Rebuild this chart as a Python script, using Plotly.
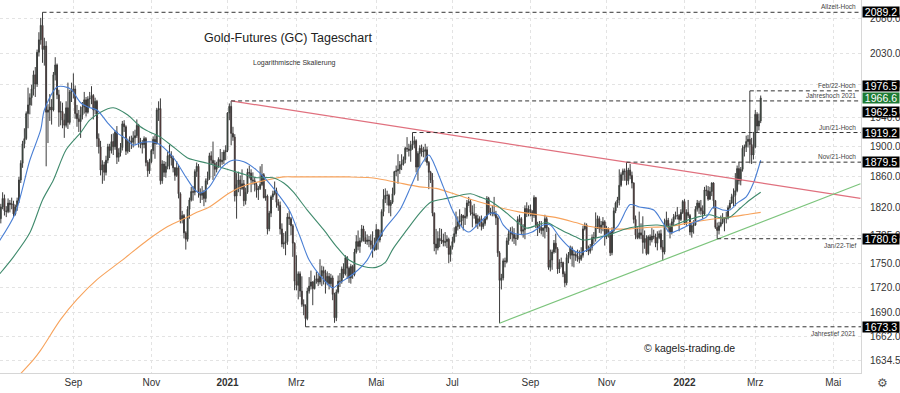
import math
import pandas as pd
import plotly.graph_objects as go

# ---------------- data ----------------
start_date = "2020-07-06"
end_date = "2022-05-31"
holidays = ["2020-09-07", "2020-11-26", "2020-12-25", "2021-01-01", "2021-01-18",
            "2021-02-15", "2021-04-02", "2021-05-31", "2021-07-05", "2021-09-06",
            "2021-11-25", "2021-12-24", "2022-01-17", "2022-02-21", "2022-04-15",
            "2022-05-30"]

open_ = [
    1800,1806,1821,1832,1816,1815,1826,1824,1825,1812,1821,1829,1856,1878,1904,1911,1945,1957,1967,1979,
    1999,1986,2031,2049,2070,2035,2040,1947,1950,1954,1950,1999,2013,1971,1947,1948,1936,1929,1953,1933,1975,
    1978,1979,1945,1938,1934,1943,1954,1964,1947,1965,1966,1970,1950,1962,1911,1900,1869,1876,1866,1882,1900,
    1895,1907,1900,1920,1886,1892,1899,1931,1927,1894,1907,1908,1906,1912,1915,1929,1905,1905,1903,1911,1879,1868,
    1880,1895,1910,1904,1950,1952,1855,1877,1866,1874,1888,1889,1885,1872,1862,1872,1838,1805,1810,1788,
    1780,1818,1830,1841,1840,1867,1874,1839,1836,1840,1832,1855,1858,1888,1882,1878,1870,1874,1883,1880,1882,1893,
    1895,1946,1955,1918,1913,1835,1850,1856,1845,1851,1829,1840,1866,1865,1856,1855,1850,1843,1845,
    1850,1863,1833,1835,1793,1813,1834,1838,1842,1827,1823,1793,1774,1775,1777,1808,1806,1797,1775,
    1728,1723,1737,1716,1700,1698,1683,1716,1722,1727,1719,1729,1731,1727,1734,1741,1738,1727,1734,1725,1732,1712,1684,
    1715,1728,1728,1743,1737,1757,1744,1732,1746,1736,1764,1777,1771,1778,1793,1782,1777,1779,1778,1773,1768,
    1767,1792,1779,1784,1815,1831,1836,1836,1823,1827,1838,1867,1868,1870,1876,1877,1883,1898,1897,1895,
    1902,1904,1908,1873,1891,1898,1893,1894,1896,1879,1866,1856,1813,1774,1769,1781,1778,1779,1776,1777,1780,1761,
    1770,1777,1787,1796,1802,1803,1810,1807,1809,1826,1828,1814,1812,1810,1800,1806,1802,1796,1800,1806,1832,
    1814,1813,1814,1812,1807,1763,1729,1732,1753,1752,1778,1787,1789,1786,1781,1781,1805,1806,1790,1792,1819,1813,
    1818,1815,1810,1833,1798,1794,1795,1791,1794,1806,1794,1745,1754,1764,1775,1768,1743,1751,1751,1737,1726,
    1757,1760,1769,1760,1761,1759,1757,1755,1760,1793,1798,1768,1765,1770,1782,1782,1796,1806,1793,1798,1802,
    1783,1793,1788,1763,1791,1816,1826,1830,1849,1863,1868,1867,1855,1869,1862,1852,1805,1785,1782,1788,1785,
    1776,1781,1762,1783,1779,1784,1783,1775,1782,1787,1770,1764,1798,1804,1795,1789,1802,1808,1810,1810,1805,1814,
    1828,1800,1814,1810,1789,1797,1798,1818,1826,1820,1816,1812,1843,1842,1831,1841,1852,1829,1795,1791,
    1797,1801,1807,1806,1807,1820,1826,1834,1836,1842,1871,1855,1870,1898,1900,1907,1910,1903,1889,
    1900,1944,1928,1935,
]
high = [
    1815,1825,1840,1837,1822,1832,1830,1833,1829,1824,1833,1860,1882,1908,1925,1948,1981,1973,1985,2005,
    2010,2035,2060,2081,2089.2,2052,2047,1958,1972,1965,2003,2024,2015,1978,1962,1960,1945,1962,1988,1978,1988,
    2001,1984,1957,1950,1955,1961,1975,1968,1969,1975,1983,1972,1967,1964,1918,1908,1882,1880,1888,1904,1904,
    1917,1918,1922,1928,1898,1905,1935,1936,1929,1911,1914,1915,1921,1923,1937,1931,1912,1909,1914,1913,1882,1884,
    1897,1914,1916,1953,1962,1966,1882,1881,1880,1893,1903,1894,1888,1873,1881,1876,1840,1816,1812,1790,
    1822,1833,1847,1848,1870,1879,1877,1845,1848,1843,1858,1867,1892,1894,1907,1882,1880,1886,1897,1893,1896,1902,
    1947,1959,1962.5,1927,1917,1865,1867,1862,1870,1856,1846,1871,1875,1870,1866,1860,1853,1848,1874,
    1877,1865,1844,1837,1816,1836,1842,1854,1846,1831,1828,1800,1788,1790,1813,1816,1808,1799,1776,
    1760,1740,1740,1734,1706,1700,1720,1733,1741,1728,1735,1740,1737,1755,1747,1746,1742,1740,1738,1737,1735,1714,1718,
    1735,1738,1746,1750,1760,1759,1746,1749,1748,1768,1785,1791,1782,1798,1797,1790,1786,1784,1786,1790,1782,
    1799,1793,1792,1818,1844,1845,1842,1838,1830,1846,1868,1875,1890,1881,1890,1887,1900,1913,1904,1908,
    1919.2,1914,1910,1894,1902,1903,1900,1904,1900,1881,1868,1865,1814,1793,1790,1794,1793,1787,1789,1785,1782,1772,
    1783,1795,1815,1809,1818,1812,1811,1820,1830,1834,1831,1823,1825,1813,1811,1809,1810,1805,1809,1835,1834,
    1820,1823,1834,1816,1809,1765,1737,1756,1757,1782,1792,1795,1796,1794,1786,1809,1811,1808,1799,1823,1827,1823,
    1824,1817,1836,1834,1802,1803,1803,1795,1811,1809,1795,1767,1767,1779,1787,1770,1755,1757,1752,1740,1762,
    1764,1772,1771,1766,1765,1767,1766,1770,1797,1801,1800,1772,1774,1786,1789,1814,1810,1809,1803,1808,1804,
    1797,1795,1790,1795,1820,1828,1834,1870,1866,1871,1871,1879.5,1872,1877,1867,1853,1810,1795,1815,1800,1809,
    1791,1785,1785,1786,1794,1792,1787,1790,1791,1792,1779,1806,1815,1807,1800,1806,1812,1815,1821,1812,1818,1830,
    1831,1818,1830,1812,1800,1804,1822,1830,1829,1830,1823,1847,1849,1848,1847,1853,1853,1830,1801,1802,
    1810,1813,1808,1815,1823,1830,1838,1845,1865,1875,1880,1873,1902,1903,1915,1916,1976.5,1912,1920,
    1950,1947,1945,1970,
]
low = [
    1795,1800,1818,1810,1808,1813,1814,1818,1808,1810,1816,1826,1852,1872,1898,1909,1925,1944,1956,1970,
    1968,1982,2025,2042,2016,2012,1874,1905,1935,1930,1948,1991,1965,1927,1929,1925,1912,1926,1924,1930,1961,
    1966,1938,1927,1920,1912,1937,1945,1941,1945,1954,1958,1937,1944,1900,1891,1862,1851,1855,1862,1878,1885,
    1891,1889,1896,1877,1880,1887,1895,1920,1889,1891,1893,1897,1899,1903,1912,1899,1898,1891,1898,1874,1860,1864,
    1878,1890,1884,1903,1935,1850,1851,1860,1859,1870,1870,1875,1866,1855,1860,1832,1800,1800,1781,1767,
    1777,1806,1828,1829,1836,1860,1833,1826,1830,1822,1827,1850,1856,1876,1856,1861,1866,1872,1873,1876,1877,1882,
    1893,1936,1902,1908,1828,1806,1840,1835,1843,1822,1824,1838,1858,1840,1850,1841,1833,1830,1843,
    1848,1832,1829,1786,1790,1808,1830,1836,1820,1816,1786,1770,1768,1760,1773,1798,1785,1758,1717,
    1717,1706,1709,1697,1687,1673.3,1681,1713,1718,1699,1718,1725,1722,1724,1722,1724,1713,1723,1718,1722,1705,1678,1680,
    1713,1721,1725,1732,1735,1731,1726,1725,1731,1734,1762,1766,1763,1776,1777,1774,1773,1770,1767,1757,1765,
    1766,1767,1776,1783,1809,1826,1823,1813,1809,1825,1836,1861,1851,1864,1869,1875,1878,1893,1887,1880,
    1896,1898,1866,1855,1872,1887,1886,1880,1875,1844,1852,1809,1765,1761,1766,1770,1774,1771,1771,1769,1750,1752,
    1767,1775,1783,1791,1793,1797,1791,1798,1806,1822,1810,1795,1806,1795,1793,1796,1791,1793,1797,1804,1812,
    1810,1809,1809,1798,1758,1677.5,1718,1729,1745,1750,1773,1780,1777,1774,1772,1779,1801,1785,1782,1780,1808,1809,
    1809,1802,1807,1794,1784,1788,1786,1783,1781,1789,1742,1740,1742,1762,1763,1737,1738,1745,1733,1721,1723,
    1750,1755,1746,1745,1753,1752,1750,1753,1757,1791,1764,1760,1762,1766,1774,1777,1793,1788,1787,1790,1772,
    1780,1782,1759,1760,1788,1813,1820,1823,1847,1855,1855,1849,1850,1857,1845,1800,1780,1780,1780,1780,1762,
    1768,1760,1761,1772,1776,1780,1770,1766,1780,1767,1753,1761,1795,1789,1781,1786,1798,1805,1805,1790,1803,1812,
    1798,1797,1807,1785,1782,1787,1797,1815,1812,1811,1806,1810,1835,1829,1830,1835,1819,1793,1780.6,1786,
    1795,1799,1790,1800,1805,1818,1825,1822,1822,1840,1850,1849,1867,1887,1893,1899,1878,1877,1883,
    1898,1920,1922,1932,
]
close = [
    1806,1821,1832,1816,1815,1826,1824,1825,1812,1821,1829,1856,1878,1904,1911,1945,1957,1967,1979,1999,
    1986,2031,2049,2070,2035,2040,1947,1950,1954,1950,1999,2013,1971,1947,1948,1936,1929,1953,1933,1975,1978,
    1979,1945,1938,1934,1943,1954,1964,1947,1965,1966,1970,1950,1962,1911,1900,1869,1876,1866,1882,1900,1895,
    1907,1900,1920,1886,1892,1899,1931,1927,1894,1907,1908,1906,1912,1915,1929,1905,1905,1903,1911,1879,1868,1880,
    1895,1910,1904,1950,1952,1855,1877,1866,1874,1888,1889,1885,1872,1862,1872,1838,1805,1810,1788,1780,
    1818,1830,1841,1840,1867,1874,1839,1836,1840,1832,1855,1858,1888,1882,1878,1870,1874,1883,1880,1882,1893,1895,
    1946,1955,1918,1913,1835,1850,1856,1845,1851,1829,1840,1866,1865,1856,1855,1850,1843,1845,1850,
    1863,1833,1835,1793,1813,1834,1838,1842,1827,1823,1793,1774,1775,1777,1808,1806,1797,1775,1728,
    1723,1737,1716,1700,1698,1683,1716,1722,1727,1719,1729,1731,1727,1734,1741,1738,1727,1734,1725,1732,1712,1684,1715,
    1728,1728,1743,1737,1757,1744,1732,1746,1736,1764,1777,1771,1778,1793,1782,1777,1779,1778,1773,1768,1767,
    1792,1779,1784,1815,1831,1836,1836,1823,1827,1838,1867,1868,1870,1876,1877,1883,1898,1897,1895,1902,
    1904,1908,1873,1891,1898,1893,1894,1896,1879,1866,1856,1813,1774,1769,1781,1778,1779,1776,1777,1780,1761,1770,
    1777,1787,1796,1802,1803,1810,1807,1809,1826,1828,1814,1812,1810,1800,1806,1802,1796,1800,1806,1832,1814,
    1813,1814,1812,1807,1763,1729,1732,1753,1752,1778,1787,1789,1786,1781,1781,1805,1806,1790,1792,1819,1813,1818,
    1815,1810,1833,1798,1794,1795,1791,1794,1806,1794,1745,1754,1764,1775,1768,1743,1751,1751,1737,1726,1757,
    1760,1769,1760,1761,1759,1757,1755,1760,1793,1798,1768,1765,1770,1782,1782,1796,1806,1793,1798,1802,1783,
    1793,1788,1763,1791,1816,1826,1830,1849,1863,1868,1867,1855,1869,1862,1852,1805,1785,1782,1788,1785,1776,
    1781,1762,1783,1779,1784,1783,1775,1782,1787,1770,1764,1798,1804,1795,1789,1802,1808,1810,1810,1805,1814,1828,
    1800,1814,1810,1789,1797,1798,1818,1826,1820,1816,1812,1843,1842,1831,1841,1852,1829,1795,1791,1797,
    1801,1807,1806,1807,1820,1826,1834,1836,1842,1871,1855,1870,1898,1900,1907,1910,1903,1889,1900,
    1944,1928,1935,1966.6,
]

# moving averages (date, value)
ma_fast_dates = ["2020-07-06","2020-07-17","2020-07-29","2020-08-06","2020-08-10","2020-08-19","2020-08-27",
    "2020-08-31","2020-09-08","2020-09-14","2020-09-21","2020-09-29","2020-10-06","2020-10-14","2020-10-19",
    "2020-10-26","2020-11-05","2020-11-18","2020-11-30","2020-12-07","2020-12-10","2020-12-17","2020-12-29",
    "2021-01-07","2021-01-15","2021-01-27","2021-02-05","2021-02-16","2021-02-23","2021-03-03","2021-03-10",
    "2021-03-22","2021-03-29","2021-04-05","2021-04-15","2021-04-26","2021-05-03","2021-05-10","2021-05-20",
    "2021-05-28","2021-06-07","2021-06-14","2021-06-16","2021-06-24","2021-07-01","2021-07-09","2021-07-15",
    "2021-07-23","2021-08-02","2021-08-06","2021-08-11","2021-08-18","2021-08-26","2021-09-02","2021-09-13",
    "2021-09-17","2021-09-24","2021-10-04","2021-10-11","2021-10-19","2021-10-28","2021-11-09","2021-11-18",
    "2021-11-26","2021-12-08","2021-12-15","2021-12-21","2021-12-29","2022-01-10","2022-01-20","2022-01-26",
    "2022-02-02","2022-02-08","2022-02-14","2022-02-22","2022-02-28","2022-03-04"]
ma_fast_values = [1777,1813,1882,1923,1950,1982,1981,1978,1960,1954,1950,1932,1919,1909,1902,1906,1905,1886,
    1860,1843,1839,1847,1873,1882,1880,1869,1852,1834,1817,1783,1754,1730,1720,1726,1738,1754,1776,1794,1817,
    1847,1873,1889,1882,1847,1817,1796,1789,1801,1813,1811,1798,1788,1786,1789,1798,1798,1783,1769,1763,1769,
    1783,1796,1824,1821,1817,1801,1788,1792,1801,1808,1821,1817,1817,1826,1834,1852,1882]

ma_mid_dates = ["2020-07-06","2020-07-16","2020-07-29","2020-08-07","2020-08-17","2020-08-26","2020-09-08",
    "2020-09-15","2020-09-23","2020-10-02","2020-10-14","2020-10-23","2020-10-30","2020-11-09","2020-11-18",
    "2020-12-01","2020-12-07","2020-12-16","2020-12-29","2021-01-13","2021-01-27","2021-02-09","2021-02-18",
    "2021-02-25","2021-03-09","2021-03-22","2021-03-31","2021-04-12","2021-04-22","2021-05-03","2021-05-10",
    "2021-05-14","2021-05-26","2021-06-07","2021-06-15","2021-06-28","2021-07-16","2021-07-23","2021-08-03",
    "2021-08-13","2021-08-23","2021-08-30","2021-09-08","2021-09-15","2021-09-23","2021-09-30","2021-10-07",
    "2021-10-13","2021-10-25","2021-11-03","2021-11-12","2021-11-24","2021-12-10","2021-12-21","2021-12-31",
    "2022-01-12","2022-01-24","2022-02-01","2022-02-08","2022-02-16","2022-02-24","2022-03-04"]
ma_mid_values = [1736,1758,1788,1830,1856,1896,1919,1936,1947,1953,1943,1927,1920,1913,1900,1885,1882,1878,
    1872,1865,1859,1859,1852,1841,1817,1792,1771,1754,1746,1745,1751,1767,1792,1813,1827,1832,1838,1834,1827,
    1813,1801,1794,1798,1801,1794,1788,1783,1779,1782,1786,1792,1796,1798,1796,1802,1808,1811,1807,1808,1820,
    1830,1840]

ma_slow_dates = ["2020-07-22","2020-07-31","2020-08-06","2020-08-21","2020-09-03","2020-09-21","2020-10-09",
    "2020-10-29","2020-11-13","2020-12-01","2020-12-07","2020-12-17","2021-01-05","2021-01-20","2021-02-04",
    "2021-02-18","2021-03-01","2021-03-22","2021-04-12","2021-04-28","2021-05-10","2021-05-20","2021-06-07",
    "2021-06-18","2021-07-06","2021-07-22","2021-08-06","2021-08-23","2021-09-08","2021-09-23","2021-10-07",
    "2021-10-19","2021-11-03","2021-11-18","2021-12-06","2021-12-21","2022-01-06","2022-01-24","2022-02-08",
    "2022-02-24","2022-03-04"]
ma_slow_values = [1619,1635,1646,1682,1706,1730,1754,1779,1796,1808,1813,1821,1839,1850,1856,1860,1860,1860,
    1860,1859,1856,1852,1847,1845,1837,1828,1821,1815,1811,1807,1801,1796,1793,1793,1795,1796,1801,1805,1808,
    1812,1814]

# trend lines (date, price)
resistance_dates = ["2021-01-06", "2022-05-23"]
resistance_prices = [1962.5, 1832.0]
support_dates = ["2021-08-09", "2022-05-23"]
support_prices = [1677.5, 1851.0]

# horizontal marks: level, start date, caption, caption side
level_values = [2089.2, 1976.5, 1962.5, 1919.2, 1879.5, 1780.6, 1673.3]
level_dates = ["2020-08-07", "2022-02-24", "2021-01-06", "2021-06-01", "2021-11-16", "2022-01-28", "2021-03-08"]
level_captions = ["Allzeit-Hoch", "Feb/22-Hoch", "Jahreshoch 2021", "Jun/21-Hoch", "Nov/21-Hoch",
                  "Jan/22-Tief", "Jahrestief 2021"]
level_caption_below = [False, False, False, False, False, True, True]
last_price = 1966.6

y_ticks = [1634.5, 1662.0, 1690.0, 1720.0, 1750.0, 1785.0, 1820.0, 1860.0, 1900.0, 1940.0, 1985.0, 2030.0, 2080.0]
x_tick_months = ["2020-09", "2020-11", "2021-01", "2021-03", "2021-05", "2021-07", "2021-09", "2021-11",
                 "2022-01", "2022-03", "2022-05"]
x_tick_labels = ["Sep", "Nov", "<b>2021</b>", "Mrz", "Mai", "Jul", "Sep", "Nov", "<b>2022</b>", "Mrz", "Mai"]

# ---------------- calendar (trading days) ----------------
days = pd.bdate_range(start_date, end_date)
days = days[~days.isin(pd.to_datetime(holidays))]
day_str = [d.strftime("%Y-%m-%d") for d in days]
pos = {s: i for i, s in enumerate(day_str)}
n = len(close)
xs = list(range(n))

tickvals = []
for m in x_tick_months:
    tickvals.append(next(i for i, s in enumerate(day_str) if s.startswith(m)))

X_MIN, X_MAX = 0.55, 475.3
Y_MIN, Y_MAX = 1619.6, 2107.4

FONT = "Liberation Sans"
fig = go.Figure()

# moving averages
for dts, vals, col in [(ma_slow_dates, ma_slow_values, "#f7a35c"),
                       (ma_mid_dates, ma_mid_values, "#3f8a6c"),
                       (ma_fast_dates, ma_fast_values, "#4a7fd4")]:
    fig.add_trace(go.Scatter(x=[pos[d] for d in dts], y=vals, mode="lines",
                             line=dict(color=col, width=1.1, shape="spline", smoothing=0.8),
                             showlegend=False, hoverinfo="skip"))

# trend lines
fig.add_trace(go.Scatter(x=[pos[d] for d in resistance_dates], y=resistance_prices, mode="lines",
                         line=dict(color="#e0707e", width=1.2), showlegend=False, hoverinfo="skip"))
fig.add_trace(go.Scatter(x=[pos[d] for d in support_dates], y=support_prices, mode="lines",
                         line=dict(color="#7cc47c", width=1.2), showlegend=False, hoverinfo="skip"))

# horizontal dashed levels
for lv, d in zip(level_values, level_dates):
    fig.add_trace(go.Scatter(x=[pos[d], X_MAX + 5], y=[lv, lv], mode="lines",
                             line=dict(color="#333333", width=1, dash="4px,3px"),
                             showlegend=False, hoverinfo="skip"))

# candles
fig.add_trace(go.Candlestick(
    x=xs, open=open_, high=high, low=low, close=close,
    increasing=dict(line=dict(color="#3c3c3c", width=1), fillcolor="#1d5c30"),
    decreasing=dict(line=dict(color="#3c3c3c", width=1), fillcolor="#9a1818"),
    whiskerwidth=0, showlegend=False, hoverinfo="skip"))

annotations = []
# captions for levels
for lv, cap, below in zip(level_values, level_captions, level_caption_below):
    annotations.append(dict(xref="paper", yref="y", x=0.996, y=math.log10(lv), text=cap,
                            xanchor="right", yanchor="top" if below else "bottom",
                            yshift=-1 if below else 0,
                            showarrow=False, font=dict(family=FONT, size=6.5, color="#444")))

# right-side price boxes
box_shift = {2089.2: 0, 1976.5: 5, 1962.5: -11, 1919.2: 0, 1879.5: 0, 1780.6: 0, 1673.3: 0}
for lv in level_values:
    annotations.append(dict(xref="paper", yref="y", x=1.0, y=math.log10(lv), text=f"{lv:.1f}",
                            xanchor="left", yanchor="middle", xshift=1, yshift=box_shift[lv],
                            showarrow=False, bgcolor="#000000", width=36, height=10, borderpad=0,
                            font=dict(family=FONT, size=10.5, color="#ffffff")))
annotations.append(dict(xref="paper", yref="y", x=1.0, y=math.log10(last_price), text=f"{last_price:.1f}",
                        xanchor="left", yanchor="middle", xshift=1, yshift=-0.5,
                        showarrow=False, bgcolor="#1e7b34", width=36, height=10, borderpad=0,
                        font=dict(family=FONT, size=10.5, color="#ffffff")))

# texts
annotations += [
    dict(xref="paper", yref="paper", x=288 / 861, y=1 - 38.5 / 373, text="Gold-Futures (GC) Tageschart",
         showarrow=False, xanchor="center", yanchor="middle",
         font=dict(family=FONT, size=12.5, color="#222")),
    dict(xref="paper", yref="paper", x=294 / 861, y=1 - 63.3 / 373, text="Logarithmische Skalierung",
         showarrow=False, xanchor="center", yanchor="middle",
         font=dict(family=FONT, size=7, color="#333")),
    dict(xref="paper", yref="paper", x=689 / 861, y=1 - 348 / 373, text="© kagels-trading.de",
         showarrow=False, xanchor="center", yanchor="middle",
         font=dict(family=FONT, size=10.5, color="#222")),
    dict(xref="paper", yref="paper", x=882 / 861, y=-10 / 373, text="⚙",
         showarrow=False, xanchor="center", yanchor="middle",
         font=dict(family="DejaVu Sans", size=12, color="#555")),
]

fig.update_layout(
    width=900, height=393,
    margin=dict(l=0, r=39, t=0, b=20),
    paper_bgcolor="white", plot_bgcolor="white",
    showlegend=False,
    annotations=annotations,
    xaxis=dict(range=[X_MIN, X_MAX], tickvals=tickvals, ticktext=x_tick_labels,
               showgrid=True, gridcolor="#e3e3e3", griddash="dot", gridwidth=1,
               zeroline=False, showline=True, linecolor="#d6d6d6", ticks="",
               tickfont=dict(family=FONT, size=10, color="#333"),
               rangeslider=dict(visible=False), fixedrange=True),
    yaxis=dict(type="log", side="right", range=[math.log10(Y_MIN), math.log10(Y_MAX)],
               tickvals=y_ticks, ticktext=[f"{v:.1f}" for v in y_ticks],
               showgrid=True, gridcolor="#e3e3e3", griddash="dot", gridwidth=1,
               zeroline=False, showline=True, linecolor="#d6d6d6", ticks="",
               ticklabelstandoff=6,
               tickfont=dict(family=FONT, size=10, color="#333"), fixedrange=True),
)

fig.write_html("out.html", config={"displayModeBar": False},
               post_script="document.body.style.margin='0';document.body.style.overflow='hidden';")
